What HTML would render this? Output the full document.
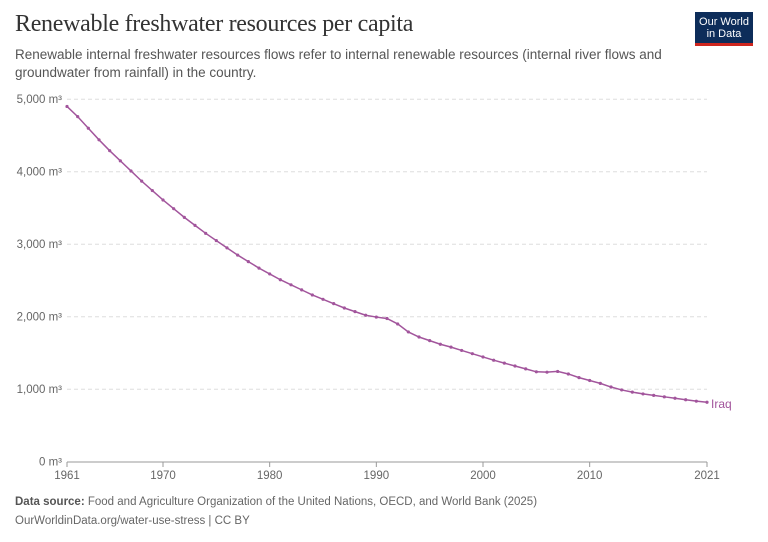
<!DOCTYPE html>
<html><head><meta charset="utf-8"><style>
body{margin:0;background:#fff;width:768px;height:542px;overflow:hidden;font-family:"Liberation Sans",sans-serif}
.t{position:absolute;left:15px;top:11px;font-family:"Liberation Serif",serif;font-size:24px;color:#333;letter-spacing:-0.3px}
.s{position:absolute;left:15px;top:46px;font-size:13.5px;color:#555;line-height:18px;width:660px}
.logo{position:absolute;left:695px;top:12px;width:58px;height:34px;background:#0d2d5a;border-bottom:3px solid #ce261e;color:#fff;font-size:11px;line-height:12px;text-align:center;padding-top:4px;box-sizing:border-box}
.f{position:absolute;left:15px;font-size:11.5px;color:#666}
</style></head><body>
<div class="t">Renewable freshwater resources per capita</div>
<div class="s">Renewable internal freshwater resources flows refer to internal renewable resources (internal river flows and groundwater from rainfall) in the country.</div>
<div class="logo">Our World<br>in Data</div>
<svg id="c" width="768" height="542" style="position:absolute;left:0;top:0" font-family="Liberation Sans, sans-serif"></svg>
<div class="f" style="top:496px"><b style="color:#555">Data source:</b> Food and Agriculture Organization of the United Nations, OECD, and World Bank (2025)</div>
<div class="f" style="top:515px">OurWorldinData.org/water-use-stress | CC BY</div>
<script>
var d=[4900,4760,4600,4440,4290,4150,4010,3870,3740,3610,3490,3370,3260,3150,3050,2950,2850,2760,2670,2590,2510,2440,2370,2300,2240,2180,2120,2070,2020,1995,1975,1900,1790,1720,1670,1620,1580,1535,1490,1445,1400,1360,1320,1280,1240,1235,1245,1210,1160,1120,1080,1030,990,960,935,915,895,875,855,835,820];
var X=function(i){return 67+i*640/60},Y=function(v){return 461.7-v*0.0725};
var s='';
for(var k=0;k<=5;k++){var y=Y(k*1000);
 if(k>0)s+='<line x1="67" x2="707" y1="'+y+'" y2="'+y+'" stroke="#ddd" stroke-dasharray="4,3"/>';
 s+='<text x="62" y="'+(y+4)+'" font-size="11.5" fill="#666" text-anchor="end">'+(k?k+',000':'0')+' m³</text>';}
s+='<line x1="67" x2="707" y1="462" y2="462" stroke="#999"/>';
[1961,1970,1980,1990,2000,2010,2021].forEach(function(yr){var x=X(yr-1961);
 s+='<line x1="'+x+'" x2="'+x+'" y1="462" y2="467" stroke="#999"/><text x="'+x+'" y="479" font-size="11.5" fill="#666" text-anchor="middle">'+yr+'</text>';});
var p=d.map(function(v,i){return X(i)+','+Y(v)}).join(' ');
s+='<polyline points="'+p+'" fill="none" stroke="#a2559c" stroke-width="1.5"/>';
d.forEach(function(v,i){s+='<circle cx="'+X(i)+'" cy="'+Y(v)+'" r="1.6" fill="#a2559c"/>';});
s+='<text x="711" y="408" font-size="12" fill="#a2559c">Iraq</text>';
document.getElementById('c').innerHTML=s;
</script>
</body></html>
